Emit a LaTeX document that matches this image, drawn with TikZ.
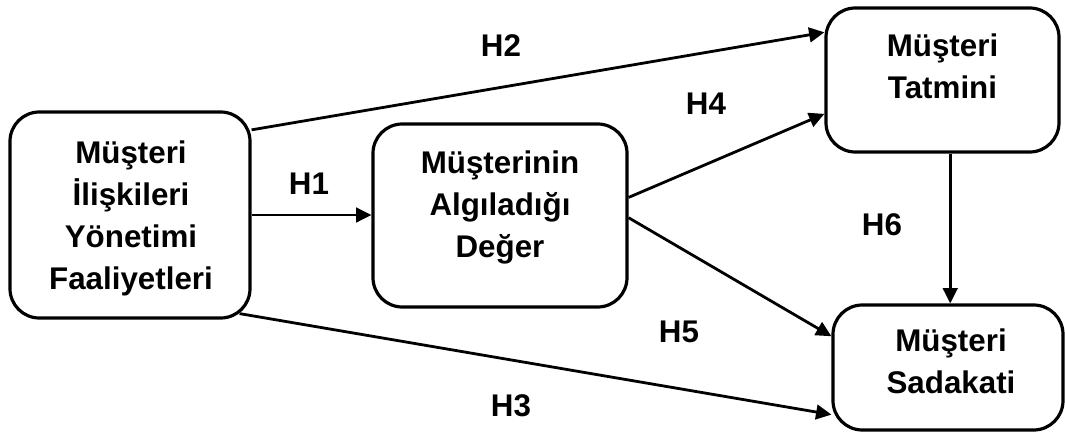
\documentclass[tikz,border=0pt]{standalone}
\usepackage{fontspec}
\setmainfont{Liberation Sans}
\usetikzlibrary{arrows.meta}
\begin{document}
\begin{tikzpicture}[x=0.75pt,y=-0.75pt,
  box/.style={draw, line width=2.4pt, rounded corners=22pt, inner sep=0pt},
  txt/.style={font=\bfseries\fontsize{23.5}{31.5}\selectfont, align=center, inner sep=0pt},
  lbl/.style={font=\bfseries\fontsize{23.5}{28}\selectfont, inner sep=0pt},
  arr/.style={line width=2.1pt, -{Triangle[length=11.5pt,width=11pt]}}]
\useasboundingbox (0,0) rectangle (1065,432);
\node[box, minimum width=180pt, minimum height=154.5pt] (crm) at (130,215){};
\node[txt] (crmtxt) at (131,218.8){Müşteri\\İlişkileri\\Yönetimi\\Faaliyetleri};
\node[box, minimum width=190.5pt, minimum height=137.25pt] (value) at (500,215.5){};
\node[txt] (valuetxt) at (500,207.8){Müşterinin\\Algıladığı\\Değer};
\node[box, minimum width=174.75pt, minimum height=108pt] (sat) at (942.5,80){};
\node[txt] (sattxt) at (942.5,66.5){Müşteri\\Tatmini};
\node[box, minimum width=172.5pt, minimum height=93.75pt] (loy) at (948,367.5){};
\node[txt] (loytxt) at (951,361){Müşteri\\Sadakati};
\draw[arr] (crm.east) -- (crm.east -| value.west);
\draw[arr] (crm.35) -- (sat.158);
\draw[arr] ([xshift=-9pt,yshift=4.5pt]crm.south east) -- (loy.202);
\draw[arr] (value.8) -- (sat.196);
\draw[arr] (value.-1) -- (loy.165);
\draw[arr] (sat.-84) -- (sat.-84 |- loy.north);
\node[lbl] (h1) at (309,184){H1};
\node[lbl] (h2) at (501,46){H2};
\node[lbl] (h3) at (511,406){H3};
\node[lbl] (h4) at (706,104){H4};
\node[lbl] (h5) at (679,332){H5};
\node[lbl] (h6) at (882,225){H6};
\end{tikzpicture}
\end{document}
